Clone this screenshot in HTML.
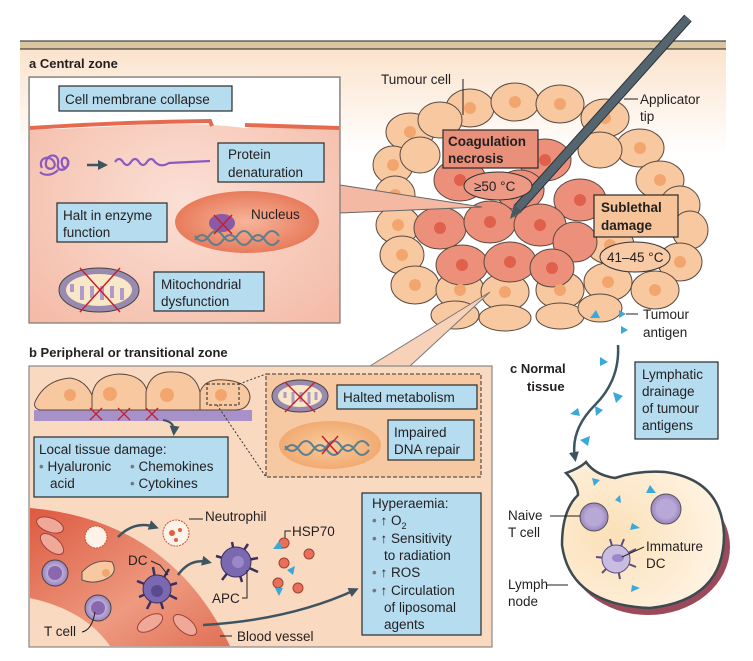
<!DOCTYPE html>
<html><head><meta charset="utf-8"><style>
body{margin:0;background:#fff}
svg{display:block;font-family:"Liberation Sans",sans-serif}
.t{font-size:13.5px;fill:#231f20}
.b{font-weight:bold}
.bx{fill:#b5dcef;stroke:#2a2a2a;stroke-width:1.2}
.oc{fill:#f8c9a0;stroke:#5a4a40;stroke-width:1}
.ic{fill:#ec907c;stroke:#5a4a40;stroke-width:1}
.on{fill:#f2a66e}
.in{fill:#e0604c}
.ld{stroke:#231f20;stroke-width:1;fill:none}
</style></head><body>
<svg width="753" height="661" viewBox="0 0 753 661">
<defs>
<linearGradient id="bg" x1="0" y1="0" x2="0" y2="1"><stop offset="0" stop-color="#fbe3cc"/><stop offset="0.35" stop-color="#fff"/></linearGradient>
<radialGradient id="pk" cx="0.5" cy="0.5" r="0.7"><stop offset="0" stop-color="#fbe0d6"/><stop offset="1" stop-color="#f4baa6"/></radialGradient>
<radialGradient id="nuc" cx="0.5" cy="0.5" r="0.6"><stop offset="0" stop-color="#f7b59b"/><stop offset="1" stop-color="#e5704f"/></radialGradient>
<radialGradient id="nuc2" cx="0.5" cy="0.5" r="0.6"><stop offset="0" stop-color="#f8cc9e"/><stop offset="1" stop-color="#f0a468"/></radialGradient>
<linearGradient id="ves" x1="0" y1="0" x2="1" y2="1"><stop offset="0" stop-color="#dc5a40"/><stop offset="0.6" stop-color="#ee9a80"/><stop offset="1" stop-color="#e07055"/></linearGradient>
<radialGradient id="ln" cx="0.3" cy="0.5" r="0.8"><stop offset="0" stop-color="#fbe0b8"/><stop offset="1" stop-color="#fff6e8"/></radialGradient>
<radialGradient id="tc" cx="0.5" cy="0.5" r="0.5"><stop offset="0" stop-color="#e8dcf0"/><stop offset="1" stop-color="#9a85c0"/></radialGradient>
<marker id="ar" markerUnits="userSpaceOnUse" markerWidth="10" markerHeight="10" refX="6" refY="5" orient="auto"><path d="M0,0 L10,5 L0,10 z" fill="#3d5560"/></marker>
</defs>
<rect x="20" y="49" width="706" height="300" fill="url(#bg)"/>
<rect x="20" y="41" width="706" height="8" fill="#d9c6a0"/>
<line x1="20" y1="41" x2="726" y2="41" stroke="#222" stroke-width="1"/>
<line x1="20" y1="49" x2="726" y2="49" stroke="#222" stroke-width="1"/>

<g>
<ellipse class="oc" cx="470" cy="108" rx="24" ry="19"/><ellipse class="oc" cx="515" cy="102" rx="24" ry="19"/><ellipse class="oc" cx="560" cy="104" rx="24" ry="19"/><ellipse class="oc" cx="605" cy="118" rx="24" ry="19"/>
<ellipse class="oc" cx="410" cy="132" rx="24" ry="19"/><ellipse class="oc" cx="440" cy="120" rx="22" ry="18"/><ellipse class="oc" cx="640" cy="148" rx="24" ry="19"/><ellipse class="oc" cx="600" cy="150" rx="22" ry="18"/>
<ellipse class="oc" cx="393" cy="165" rx="20" ry="19"/><ellipse class="oc" cx="660" cy="180" rx="24" ry="19"/><ellipse class="oc" cx="420" cy="155" rx="20" ry="18"/>
<ellipse class="oc" cx="395" cy="195" rx="20" ry="19"/><ellipse class="oc" cx="680" cy="205" rx="20" ry="19"/>
<ellipse class="oc" cx="398" cy="225" rx="22" ry="19"/><ellipse class="oc" cx="690" cy="230" rx="18" ry="19"/>
<ellipse class="oc" cx="402" cy="255" rx="22" ry="19"/><ellipse class="oc" cx="610" cy="245" rx="24" ry="19"/><ellipse class="oc" cx="680" cy="262" rx="22" ry="19"/>
<ellipse class="oc" cx="415" cy="285" rx="24" ry="19"/><ellipse class="oc" cx="460" cy="290" rx="24" ry="19"/><ellipse class="oc" cx="505" cy="292" rx="24" ry="19"/><ellipse class="oc" cx="560" cy="290" rx="24" ry="19"/><ellipse class="oc" cx="608" cy="282" rx="24" ry="19"/><ellipse class="oc" cx="655" cy="290" rx="24" ry="19"/>
<ellipse class="oc" cx="455" cy="315" rx="24" ry="14"/><ellipse class="oc" cx="505" cy="318" rx="26" ry="13"/><ellipse class="oc" cx="560" cy="316" rx="24" ry="13"/><ellipse class="oc" cx="600" cy="308" rx="22" ry="14"/>
<ellipse class="ic" cx="460" cy="180" rx="26" ry="21"/><ellipse class="ic" cx="545" cy="160" rx="26" ry="21"/><ellipse class="ic" cx="580" cy="200" rx="26" ry="21"/><ellipse class="ic" cx="520" cy="190" rx="24" ry="20"/>
<ellipse class="ic" cx="440" cy="228" rx="26" ry="21"/><ellipse class="ic" cx="490" cy="222" rx="26" ry="21"/><ellipse class="ic" cx="540" cy="225" rx="26" ry="21"/><ellipse class="ic" cx="575" cy="242" rx="22" ry="20"/>
<ellipse class="ic" cx="462" cy="265" rx="26" ry="20"/><ellipse class="ic" cx="510" cy="262" rx="26" ry="20"/><ellipse class="ic" cx="552" cy="268" rx="22" ry="19"/>
<g class="on"><circle cx="470" cy="108" r="6"/><circle cx="515" cy="102" r="6"/><circle cx="560" cy="104" r="6"/><circle cx="605" cy="118" r="6"/><circle cx="410" cy="132" r="6"/><circle cx="640" cy="148" r="6"/><circle cx="393" cy="165" r="6"/><circle cx="660" cy="180" r="6"/><circle cx="395" cy="195" r="6"/><circle cx="398" cy="225" r="6"/><circle cx="402" cy="255" r="6"/><circle cx="680" cy="262" r="6"/><circle cx="415" cy="285" r="6"/><circle cx="460" cy="290" r="6"/><circle cx="505" cy="292" r="6"/><circle cx="560" cy="290" r="6"/><circle cx="608" cy="282" r="6"/><circle cx="655" cy="290" r="6"/><circle cx="610" cy="245" r="6"/></g>
<g class="in"><circle cx="460" cy="180" r="6"/><circle cx="545" cy="160" r="6"/><circle cx="580" cy="200" r="6"/><circle cx="440" cy="228" r="6"/><circle cx="490" cy="222" r="6"/><circle cx="540" cy="225" r="6"/><circle cx="462" cy="265" r="6"/><circle cx="510" cy="262" r="6"/><circle cx="552" cy="268" r="6"/></g>
</g>
<line x1="688" y1="18" x2="518" y2="208" stroke="#2b3338" stroke-width="10"/>
<line x1="688" y1="18" x2="518" y2="208" stroke="#556570" stroke-width="8"/>
<path d="M514,204 L522,212 L510,219 Z" fill="#4a5860"/>
<text class="t" x="381" y="84">Tumour cell</text>
<path class="ld" d="M463,79 L463,115"/>
<text class="t" x="640" y="104">Applicator</text><text class="t" x="640" y="121">tip</text>
<path class="ld" d="M624,99 L638,99"/>
<rect x="443" y="130" width="95" height="38" fill="#e8907a" stroke="#2a2a2a" stroke-width="1.2"/>
<text class="t b" x="448" y="146">Coagulation</text><text class="t b" x="448" y="163">necrosis</text>
<ellipse cx="498" cy="186" rx="34" ry="14" fill="#ec9a86" stroke="#333"/>
<text class="t" x="474" y="191">≥50 °C</text>
<rect x="594" y="195" width="84" height="42" fill="#f7c49a" stroke="#2a2a2a" stroke-width="1.2"/>
<text class="t b" x="601" y="212">Sublethal</text><text class="t b" x="601" y="230">damage</text>
<ellipse cx="635" cy="257" rx="35" ry="15" fill="#f8cba6" stroke="#333"/>
<text class="t" x="607" y="262">41–45 °C</text>
<path d="M590,318 L596,310 L600,318Z M619,310 L626,314 L619,318Z M621,326 L628,330 L621,334Z" fill="#3aa8d8"/>
<path class="ld" d="M626,314 L638,314"/>
<text class="t" x="643" y="319">Tumour</text><text class="t" x="643" y="337">antigen</text>

<text class="t b" x="29" y="68" style="font-size:13px">a  Central zone</text>
<path d="M340,185 L482,207 L340,213 Z" fill="#f3b9a2" stroke="#666"/>
<rect x="29" y="77" width="311" height="246" fill="url(#pk)" stroke="#777" stroke-width="1.2"/>
<path d="M30,78 L339,78 L339,126 L245,128 Q200,122 140,125 Q80,128 30,130 Z" fill="#fff"/>
<path d="M30,128 Q120,122 210,121 L212,126 M245,125 L339,128" stroke="#e56a4e" stroke-width="4" fill="none"/>
<rect class="bx" x="59" y="86" width="173" height="25"/><text class="t" x="65" y="104">Cell membrane collapse</text>
<path d="M42,168 c-5,-10 8,-14 12,-6 c4,8 -10,10 -8,0 c2,-10 14,-8 12,2 c-2,8 10,8 10,-2 c0,-6 -8,-6 -6,2 c1,6 8,4 6,-4 M40,172 c4,4 12,4 18,-2" stroke="#8a5ac0" stroke-width="2.2" fill="none"/>
<line x1="87" y1="165" x2="104" y2="165" stroke="#3d5560" stroke-width="2.5" marker-end="url(#ar)"/>
<path d="M115,162 q4,-6 8,0 q4,6 8,0 q4,-6 8,0 q4,6 8,0 q4,-6 8,0 q6,6 14,1 L210,161" stroke="#8a5ac0" stroke-width="2.2" fill="none"/>
<rect class="bx" x="218" y="143" width="106" height="39"/><text class="t" x="228" y="159">Protein</text><text class="t" x="228" y="177">denaturation</text>
<rect class="bx" x="57" y="203" width="110" height="39"/><text class="t" x="63" y="220">Halt in enzyme</text><text class="t" x="63" y="237">function</text>
<ellipse cx="247" cy="222" rx="72" ry="31" fill="url(#nuc)"/>
<ellipse cx="222" cy="223" rx="13" ry="9" fill="#8a5aa8"/>
<path d="M195,240 q7,-10 14,0 q7,10 14,0 q7,-10 14,0 q7,10 14,0 q7,-10 14,0 q7,10 14,0 M195,236 q7,10 14,0 q7,-10 14,0 q7,10 14,0 q7,-10 14,0 q7,10 14,0 q7,-10 14,0" stroke="#5a8090" stroke-width="2" fill="none"/>
<path d="M214,215 L232,234 M232,215 L214,234" stroke="#c8202a" stroke-width="1.5"/>
<text class="t" x="251" y="219">Nucleus</text>
<ellipse cx="99" cy="290" rx="40" ry="22" fill="#9a8ab0" stroke="#444"/>
<ellipse cx="99" cy="290" rx="33" ry="16" fill="#f8e8c8"/>
<path d="M72,292 v-8 M82,300 v-14 M92,286 v12 M102,300 v-14 M112,286 v12 M122,300 v-12" stroke="#b09ac8" stroke-width="4"/>
<path d="M80,268 L120,312 M120,268 L80,312" stroke="#c8202a" stroke-width="1.5"/>
<rect class="bx" x="154" y="272" width="110" height="39"/><text class="t" x="161" y="289">Mitochondrial</text><text class="t" x="161" y="306">dysfunction</text>

<text class="t b" x="29" y="357" style="font-size:13px">b  Peripheral or transitional zone</text>
<path d="M370,366 L490,292 L410,366 Z" fill="#f8d2b8" stroke="#777"/>
<rect x="29" y="366" width="463" height="281" fill="#fad9c1" stroke="#888" stroke-width="1.2"/>
<rect x="34" y="410" width="218" height="11" fill="#a890c8"/>
<g class="oc">
<path d="M35,402 Q45,380 70,378 Q85,380 92,395 L92,410 L40,410 Q33,408 35,402 Z"/>
<path d="M92,395 Q95,375 120,374 Q145,375 148,395 L146,410 L92,410 Z"/>
<path d="M146,392 Q150,370 175,372 Q195,372 200,392 L200,410 L146,410 Z"/>
<path d="M200,392 Q205,378 225,380 Q250,382 250,398 Q248,410 235,410 L200,410 Z"/>
</g>
<g class="on"><circle cx="70" cy="395" r="6"/><circle cx="110" cy="394" r="7"/><circle cx="167" cy="395" r="7"/><circle cx="221" cy="395" r="6"/></g>
<rect x="207" y="384" width="32" height="21" fill="none" stroke="#222" stroke-dasharray="3,2"/>
<path d="M239,384 L266,374 M217,405 L266,477" stroke="#333" stroke-dasharray="2,2"/>
<path d="M90,408 L102,420 M102,408 L90,420 M118,408 L130,420 M130,408 L118,420 M146,408 L158,420 M158,408 L146,420" stroke="#c8202a" stroke-width="1.3"/>
<path d="M163,420 Q175,422 174,432" stroke="#3d5560" stroke-width="2" fill="none" marker-end="url(#ar)"/>
<rect x="266" y="374" width="215" height="103" fill="#f7c9a3" stroke="#333" stroke-dasharray="4,2"/>
<ellipse cx="300" cy="396" rx="28" ry="16" fill="#9a8ab0" stroke="#444"/><ellipse cx="300" cy="396" rx="22" ry="11" fill="#f8e8c8"/>
<path d="M285,398v-6 M293,404v-12 M301,392v10 M309,404v-12 M316,392v8" stroke="#b09ac8" stroke-width="3"/>
<path d="M285,382 L315,412 M315,382 L285,412" stroke="#c8202a" stroke-width="1.5"/>
<rect class="bx" x="337" y="385" width="140" height="24"/><text class="t" x="343" y="402">Halted metabolism</text>
<ellipse cx="330" cy="445" rx="51" ry="24" fill="url(#nuc2)"/>
<path d="M285,450 q7,-10 14,0 q7,10 14,0 q7,-10 14,0 q7,10 14,0 q7,-10 14,0 q7,10 14,0 M285,446 q7,10 14,0 q7,-10 14,0 q7,10 14,0 q7,-10 14,0 q7,10 14,0 q7,-10 14,0" stroke="#5a8090" stroke-width="2" fill="none"/>
<path d="M322,436 L338,454 M338,436 L322,454" stroke="#c8202a" stroke-width="1.5"/>
<rect class="bx" x="388" y="420" width="86" height="40"/><text class="t" x="394" y="437">Impaired</text><text class="t" x="394" y="454">DNA repair</text>
<rect class="bx" x="34" y="437" width="194" height="60"/>
<text class="t" x="39" y="454">Local tissue damage:</text>
<text class="t" x="39" y="471"><tspan fill="#777">•</tspan> Hyaluronic</text><text class="t" x="130" y="471"><tspan fill="#777">•</tspan> Chemokines</text>
<text class="t" x="50" y="488">acid</text><text class="t" x="130" y="488"><tspan fill="#777">•</tspan> Cytokines</text>
<path d="M30,508 Q170,520 230,646 L110,646 Q85,610 30,598 Z" fill="url(#ves)"/>
<g fill="#f0a898" stroke="#a04040" stroke-width="1">
<ellipse cx="50" cy="525" rx="14" ry="7" transform="rotate(20 50 525)"/><ellipse cx="52" cy="544" rx="14" ry="7" transform="rotate(40 52 544)"/>
<ellipse cx="150" cy="623" rx="14" ry="7" transform="rotate(-30 150 623)"/><ellipse cx="185" cy="625" rx="14" ry="7" transform="rotate(40 185 625)"/>
</g>
<path d="M82,572 Q95,558 112,562 Q118,572 108,578 Q95,585 82,580 Z" fill="#f8c9a0" stroke="#555"/><circle cx="106" cy="573" r="4" fill="#f2a66e"/>
<circle cx="96" cy="537" r="11" fill="#fff2e8" stroke="#c85030" stroke-dasharray="2,1"/>
<circle cx="55" cy="573" r="13" fill="url(#tc)" stroke="#444"/><circle cx="55" cy="573" r="7" fill="#8a68b0"/>
<circle cx="98" cy="608" r="13" fill="url(#tc)" stroke="#444"/><circle cx="98" cy="608" r="7" fill="#8a68b0"/>
<path class="ld" d="M95,612 Q92,630 82,632"/><text class="t" x="44" y="636">T cell</text>
<g stroke="#3a3060" stroke-width="2.5"><path d="M157,589 l-20,-8 M157,589 l-18,8 M157,589 l-4,-22 M157,589 l12,-20 M157,589 l20,-6 M157,589 l20,10 M157,589 l6,20 M157,589 l-10,20"/></g>
<circle cx="157" cy="589" r="14" fill="#7a68b0" stroke="#3a3060"/><circle cx="157" cy="591" r="6" fill="#5a4a90"/>
<text class="t" x="128" y="565">DC</text><path class="ld" d="M151,561 L160,565 L168,575"/>
<path d="M118,537 Q135,520 155,527" stroke="#3d5560" stroke-width="2.5" fill="none" marker-end="url(#ar)"/>
<circle cx="176" cy="533" r="13" fill="#fff2e8" stroke="#c85030" stroke-dasharray="2,1"/>
<circle cx="172" cy="533" r="3" fill="#e06040"/><circle cx="180" cy="530" r="2" fill="#e06040"/><circle cx="176" cy="540" r="2" fill="#e06040"/>
<text class="t" x="205" y="521">Neutrophil</text><path class="ld" d="M189,519 L203,519"/>
<path d="M178,575 Q190,558 208,562" stroke="#3d5560" stroke-width="2.5" fill="none" marker-end="url(#ar)"/>
<g stroke="#3a3060" stroke-width="2.5"><path d="M236,562 l-20,-6 M236,562 l-4,-20 M236,562 l12,-18 M236,562 l22,-4 M236,562 l22,10 M236,562 l6,20 M236,562 l-14,18"/></g>
<circle cx="236" cy="562" r="15" fill="#7a68b0" stroke="#3a3060"/><circle cx="238" cy="562" r="6" fill="#9a88c8"/>
<text class="t" x="212" y="603">APC</text><path class="ld" d="M242,598 L247,598 L247,570"/>
<text class="t" x="292" y="536">HSP70</text><path class="ld" d="M285,545 L285,531 L291,531"/>
<g fill="#e8705a" stroke="#a04030"><circle cx="284" cy="543" r="5"/><circle cx="309" cy="554" r="5"/><circle cx="284" cy="563" r="5"/><circle cx="278" cy="583" r="5"/><circle cx="298" cy="588" r="5"/></g>
<path d="M273,549 L279,541 L283,549Z M287,570 L295,566 L293,575Z M275,588 L283,588 L279,596Z" fill="#3aa8d8"/>
<path d="M203,625 Q290,620 355,590" stroke="#3d5560" stroke-width="2.5" fill="none" marker-end="url(#ar)"/>
<path class="ld" d="M220,636 L232,636"/><text class="t" x="237" y="641">Blood vessel</text>
<rect class="bx" x="362" y="493" width="119" height="142"/>
<g class="t">
<text x="372" y="508">Hyperaemia:</text>
<text x="372" y="525"><tspan fill="#777">•</tspan> ↑ O<tspan font-size="9" dy="4">2</tspan></text>
<text x="372" y="543"><tspan fill="#777">•</tspan> ↑ Sensitivity</text>
<text x="384" y="560">to radiation</text>
<text x="372" y="577"><tspan fill="#777">•</tspan> ↑ ROS</text>
<text x="372" y="595"><tspan fill="#777">•</tspan> ↑ Circulation</text>
<text x="384" y="612">of liposomal</text>
<text x="384" y="629">agents</text>
</g>

<text class="t b" x="510" y="373" style="font-size:13px">c  Normal</text>
<text class="t b" x="527" y="391" style="font-size:13px">tissue</text>
<rect class="bx" x="635" y="362" width="83" height="77"/>
<text class="t" x="642" y="379">Lymphatic</text><text class="t" x="642" y="396">drainage</text><text class="t" x="642" y="413">of tumour</text><text class="t" x="642" y="430">antigens</text>
<path d="M618,345 Q620,380 595,405 Q570,430 575,458" stroke="#3d5560" stroke-width="2.5" fill="none" marker-end="url(#ar)"/>
<g fill="#3aa8d8"><path d="M600,357 L608,362 L600,366Z M613,392 L623,396 L616,403Z M570,414 L578,408 L580,416Z M595,406 L603,410 L596,416Z M580,440 L590,436 L588,446Z"/></g>
<ellipse cx="648" cy="547" rx="82" ry="68" fill="#9a4a5a"/>
<path d="M566,473 Q580,468 586,462 Q595,475 615,478 Q640,470 665,472 Q722,480 724,535 Q724,600 650,608 Q570,605 562,545 Q562,510 578,495 Q578,485 566,473 Z" fill="url(#ln)" stroke="#3d4a50" stroke-width="2.5"/>
<g fill="#3aa8d8"><path d="M592,478 L600,480 L594,486Z M650,485 L656,493 L646,493Z M615,500 L620,495 L621,503Z M632,523 L640,528 L630,530Z M632,585 L640,588 L631,592Z"/></g>
<circle cx="594" cy="517" r="14" fill="url(#tc)" stroke="#555"/><circle cx="594" cy="517" r="9" fill="#b8a8d8"/>
<circle cx="666" cy="509" r="15" fill="url(#tc)" stroke="#555"/><circle cx="666" cy="509" r="10" fill="#b8a8d8"/>
<g stroke="#5a5080" stroke-width="2"><path d="M616,559 l-20,-2 M616,559 l-6,-20 M616,559 l8,-20 M616,559 l20,-10 M616,559 l20,8 M616,559 l4,20 M616,559 l-14,14"/></g>
<circle cx="616" cy="559" r="14" fill="#c8bce0" stroke="#5a5080"/><ellipse cx="618" cy="558" rx="6" ry="4" fill="#9a88c8"/>
<text class="t" x="508" y="520">Naive</text><text class="t" x="508" y="537">T cell</text><path class="ld" d="M550,516 L580,516"/>
<text class="t" x="646" y="551">Immature</text><text class="t" x="646" y="568">DC</text><path class="ld" d="M622,557 L644,547"/>
<text class="t" x="508" y="589">Lymph</text><text class="t" x="508" y="606">node</text><path class="ld" d="M547,585 L568,585"/>
</svg>
</body></html>
